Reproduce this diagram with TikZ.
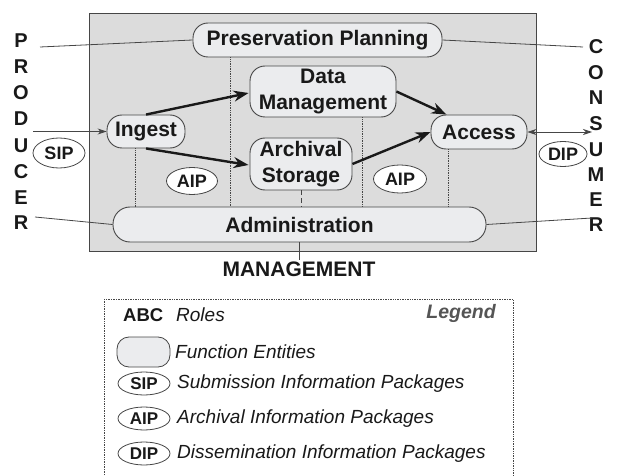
\documentclass[tikz,border=0pt]{standalone}
\usepackage{fontspec}
\setmainfont{Liberation Sans}
\usetikzlibrary{shapes.geometric,arrows.meta,calc}
\definecolor{bggray}{RGB}{220,220,220}
\definecolor{nodefill}{RGB}{235,236,238}
\definecolor{edge}{RGB}{70,70,70}
\definecolor{ink}{RGB}{25,25,25}
\definecolor{leggray}{RGB}{85,85,85}
\tikzset{
  func/.style={draw=edge, line width=0.9pt, fill=nodefill, rounded corners=15pt, inner sep=0pt, align=center,
    font=\fontsize{21}{26}\selectfont\bfseries, text=ink},
  pkg/.style={ellipse, draw=edge, line width=0.8pt, fill=white, inner sep=0pt,
    font=\fontsize{18}{20}\selectfont\bfseries, text=ink},
  lpkg/.style={ellipse, draw=edge, line width=0.8pt, fill=white, inner sep=0pt, minimum width=52pt, minimum height=23pt,
    font=\fontsize{17}{19}\selectfont\bfseries, text=ink},
  role/.style={font=\fontsize{20}{22}\selectfont\bfseries, text=ink, inner sep=0pt},
  thin/.style={draw=edge, line width=0.8pt},
  flow/.style={draw=ink, line width=2.4pt, -{Stealth[length=15pt,width=11pt]}},
  vdot/.style={draw=edge, line width=0.7pt, densely dotted},
  ltext/.style={font=\fontsize{19}{21}\selectfont\itshape, text=ink, anchor=west, inner sep=0pt},
}
\begin{document}
\begin{tikzpicture}[x=1pt,y=-1pt]
\useasboundingbox (0,0) rectangle (619,476);
% background
\fill[bggray] (89,13) rectangle (536,251);
\draw[draw=edge, line width=0.9pt] (89,13) rectangle (536,251);

% function entities
\node[func, minimum width=249pt, minimum height=34pt] (pp) at (317.5,40) {Preservation Planning};
\node[func, minimum width=146pt, minimum height=51pt] (dm) at (323,91.5) {Data\\Management};
\node[func, minimum width=78pt, minimum height=33pt] (ing) at (146,131.5) {Ingest};
\node[func, minimum width=102pt, minimum height=52pt] (as) at (301,164) {Archival\\Storage};
\node[func, minimum width=96pt, minimum height=34pt] (acc) at (479,132) {Access};
\node[func, minimum width=373pt, minimum height=35pt, rounded corners=17pt] (adm) at (299.5,224.5) {Administration};

% packages
\node[pkg, minimum width=52pt, minimum height=30pt] (sip) at (59,153) {SIP};
\node[pkg, minimum width=51pt, minimum height=27pt] (aip1) at (192,181) {AIP};
\node[pkg, minimum width=53pt, minimum height=28pt] (aip2) at (400,179) {AIP};
\node[pkg, minimum width=48pt, minimum height=25pt] (dip) at (563,154) {DIP};

% roles
\foreach \l/\y [count=\i] in {P/41,R/67,O/93,D/119,U/146,C/172,E/198,R/223}
  \node[role] (p\i) at (21,\y) {\l};
\foreach \l/\y [count=\i] in {C/47,O/72.5,N/98,S/123.5,U/150,M/175,E/200,R/225}
  \node[role] (c\i) at (596,\y) {\l};
\node[font=\fontsize{21}{23}\selectfont\bfseries, text=ink, inner sep=0pt] (mgmt) at (299,269) {MANAGEMENT};

% free ends
\coordinate (pl) at (40,47);
\coordinate (pr) at (583,47);
\coordinate (rl) at (35,217);
\coordinate (rr) at (592,218);
\coordinate (inl) at (33,131.5);
\coordinate (outr) at (592,132);
\coordinate (mtop) at (299.5,260);

\draw[thin] (pl) -- (pp.west);
\draw[thin] (pp.east) -- (pr);
\draw[thin] (rl) -- (adm.west);
\draw[thin] (adm.east) -- (rr);
\draw[thin] (adm.south) -- (mtop);
\draw[thin, -{Stealth[length=9pt,width=6pt]}] (inl) -- (ing.west);
\draw[thin, {Stealth[length=9pt,width=6pt]}-{Stealth[length=9pt,width=6pt]}] (acc.east) -- (outr);

% dotted verticals
\coordinate (v1) at (135,0);
\coordinate (v2) at (230,0);
\coordinate (v3) at (362,0);
\coordinate (v4) at (448,0);
\draw[vdot] (ing.south -| v1) -- (adm.north -| v1);
\draw[vdot] (pp.south -| v2) -- (adm.north -| v2);
\draw[vdot] (dm.south -| v3) -- (adm.north -| v3);
\draw[vdot] (acc.south -| v4) -- (adm.north -| v4);
\draw[draw=edge, line width=0.8pt, dash pattern=on 5pt off 3pt] (as.south) -- (adm.north -| as.south);

% flows
\draw[flow] (ing.north) -- ($(dm.west)+(-1,1.5)$);
\draw[flow] (ing.south) -- ($(as.west)+(-1,1)$);
\draw[flow] (dm.east) -- ($(acc.north west)+(16,0)$);
\draw[flow] (as.east) -- (acc.west);

% legend
\draw[draw=edge, line width=0.7pt, densely dotted] (104,299) rectangle (513,482);
\node[font=\fontsize{18.5}{20}\selectfont\bfseries, text=ink, anchor=west, inner sep=0pt] (abc) at (123,315) {ABC};
\node[ltext] (roles) at (176,315) {Roles};
\node[font=\fontsize{19.5}{21}\selectfont\bfseries\itshape, text=leggray, anchor=east, inner sep=0pt] (leg) at (496,313) {Legend};
\node[draw=edge, line width=0.8pt, fill=nodefill, rounded corners=12pt, minimum width=53pt, minimum height=30pt, inner sep=0pt] (lfe) at (143.5,352) {};
\node[ltext] (tfe) at (175,352) {Function Entities};
\node[lpkg] (lsip) at (144,383.5) {SIP};
\node[ltext] (tsip) at (177,383.5) {Submission Information Packages};
\node[lpkg] (laip) at (144,418.5) {AIP};
\node[ltext] (taip) at (177,418.5) {Archival Information Packages};
\node[lpkg] (ldip) at (144,453.5) {DIP};
\node[ltext] (tdip) at (177,453.5) {Dissemination Information Packages};
\end{tikzpicture}
\end{document}
